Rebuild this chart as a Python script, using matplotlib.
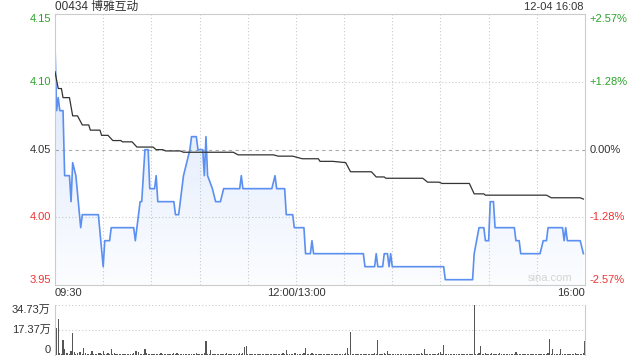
import matplotlib
matplotlib.use('Agg')
import matplotlib.pyplot as plt
import matplotlib.transforms as mtransforms
import numpy as np

plt.rcParams['font.family'] = ['Liberation Sans', 'Noto Sans CJK SC', 'DejaVu Sans']

# price line (minutes since 09:30, lunch break removed)
price_t = [0, 1, 2, 3, 5, 6, 9, 10, 11, 13, 16, 17, 27, 30, 31, 34, 35, 49, 50, 53,
           54, 55, 56, 58, 59, 62, 63, 64, 74, 75, 77, 78, 80, 82, 84, 85, 88, 89, 92, 93,
           94, 95, 98, 100, 103, 105, 115, 116, 117, 135, 137, 138, 143, 144, 148, 149,
           155, 156, 159, 160, 161, 192, 193, 199, 200, 201, 204, 205, 207, 208, 209, 210,
           242, 243, 260, 261, 264, 267, 268, 270, 271, 273, 274, 286, 287, 289, 290, 302,
           304, 306, 307, 316, 317, 318, 319, 327, 329]
price_v = [4.13, 4.08, 4.09, 4.08, 4.08, 4.03, 4.03, 4.01, 4.04, 4.03, 3.99, 4.00, 4.00, 3.96, 3.98, 3.98, 3.99, 3.99, 3.98, 4.01,
           4.01, 4.03, 4.05, 4.05, 4.02, 4.02, 4.03, 4.01, 4.01, 4.00, 4.00, 4.01, 4.03, 4.04, 4.05, 4.06, 4.06, 4.05, 4.05, 4.03,
           4.06, 4.03, 4.02, 4.01, 4.01, 4.02, 4.02, 4.03, 4.02, 4.02, 4.03, 4.02, 4.02, 4.00, 4.00, 3.99,
           3.99, 3.97, 3.97, 3.98, 3.97, 3.97, 3.96, 3.96, 3.97, 3.96, 3.96, 3.97, 3.97, 3.96, 3.97, 3.96,
           3.96, 3.95, 3.95, 3.97, 3.99, 3.99, 3.98, 3.98, 4.01, 4.01, 3.99, 3.99, 3.98, 3.98, 3.97, 3.97,
           3.98, 3.98, 3.99, 3.99, 3.98, 3.99, 3.98, 3.98, 3.97]

# average price line
avg_t = [0, 2, 4, 5, 9, 11, 14, 17, 21, 22, 28, 29, 33, 36, 41, 42, 48, 51, 61, 63,
         67, 69, 78, 80, 111, 114, 136, 139, 148, 154, 164, 165, 173, 181, 184, 197, 200,
         205, 206, 229, 232, 239, 241, 258, 261, 267, 268, 306, 309, 327, 329]
avg_v = [4.110, 4.097, 4.097, 4.090, 4.090, 4.076, 4.076, 4.069, 4.069, 4.065, 4.065, 4.061, 4.061, 4.057, 4.057, 4.056, 4.056, 4.052, 4.052, 4.050,
         4.050, 4.049, 4.049, 4.048, 4.048, 4.046, 4.046, 4.045, 4.045, 4.043, 4.043, 4.041, 4.041, 4.040, 4.033, 4.033, 4.029,
         4.029, 4.028, 4.028, 4.025, 4.025, 4.024, 4.024, 4.016, 4.016, 4.015, 4.015, 4.013, 4.013, 4.012]

# volume per minute, in 万
vol = [8.1, 18.5, 25, 1.5, 1.0, 10.4, 4.0, 1.5, 1.5, 1.0, 2.8, 15.5, 2.3, 1.0, 1.5, 2.3, 2.3, 1.0, 5.1, 1.5, 1.0, 0.8, 1.0, 2.8, 0.8, 1.0, 0.8, 1.2, 1.5, 0.8,
       2.8, 0.8, 1.0, 1.5, 0.8, 4.2, 1.0, 1.5, 0.8, 0.8, 1.0, 0.8, 0.6, 1.0, 0.8, 0.8, 1.0, 0.6, 0.8, 1.5, 2.8, 2.8, 1.8, 0.8, 1.0, 0.8, 4.2, 1.5, 0.8, 0.6,
       0.8, 1.0, 0.6, 0.8, 1.0, 0.8, 1.2, 0.6, 0.8, 1.0, 0.8, 0.6, 1.0, 0.8, 1.2, 0.8, 1.5, 0.8, 0.6, 1.0, 0.8, 0.8, 1.0, 0.6, 0.8, 1.0, 0.6, 0.8, 1.2, 1.0,
       0.8, 0.6, 1.0, 1.5, 9.7, 0.8, 1.0, 3.5, 0.8, 0.6, 1.0, 0.8, 0.6, 0.8, 1.0, 0.6, 0.8, 1.5, 0.8, 0.6, 1.0, 0.8, 0.6, 1.0, 0.8, 1.2, 1.0, 1.5, 5.8, 6.5,
       0.8, 0.6, 1.0, 0.8, 0.6, 1.0, 0.8, 0.6, 1.0, 0.8, 0.6, 0.8, 1.0, 0.6, 0.8, 1.0, 0.8, 0.6, 1.0, 0.8, 0.6, 1.0, 1.2, 0.8, 3.5, 0.6, 0.8, 1.0, 0.6, 1.5,
       1.5, 0.8, 0.6, 1.0, 0.8, 1.2, 4.6, 0.8, 0.6, 1.0, 1.5, 0.8, 0.6, 0.8, 1.0, 0.6, 0.8, 1.0, 0.6, 0.8, 1.0, 0.6, 0.8, 1.0, 0.6, 0.8, 1.0, 0.8, 0.6, 1.0,
       0.8, 1.2, 4.6, 0.8, 16.0, 1.0, 0.8, 0.6, 1.0, 0.8, 0.6, 1.0, 0.8, 0.6, 1.0, 0.8, 0.6, 1.0, 0.8, 1.5, 0.6, 10.4, 0.8, 1.0, 0.6, 1.5, 0.8, 3.0, 0.8, 1.0,
       0.6, 0.8, 1.0, 0.6, 0.8, 1.0, 0.6, 0.8, 1.0, 0.6, 0.8, 1.0, 0.6, 0.8, 1.0, 0.6, 0.8, 1.0, 1.5, 0.8, 4.0, 0.8, 1.0, 0.6, 0.8, 1.0, 0.6, 0.8, 1.0, 1.2,
       2.0, 0.8, 7.0, 0.8, 1.0, 0.6, 0.8, 1.0, 0.6, 0.8, 1.0, 0.6, 0.8, 1.0, 0.6, 0.8, 1.0, 0.6, 0.8, 1.0, 0.6, 34.73, 1.0, 0.8, 1.2, 6.2, 0.8, 1.0, 1.5, 0.6,
       0.8, 1.0, 1.2, 0.8, 0.6, 1.0, 0.8, 1.5, 0.6, 0.8, 1.0, 0.6, 0.8, 1.0, 0.6, 0.8, 1.0, 2.0, 0.8, 0.6, 1.0, 0.8, 0.6, 1.0, 0.8, 0.6, 1.0, 0.8, 0.6, 1.0,
       0.8, 0.6, 1.0, 0.8, 0.6, 1.0, 0.8, 1.2, 11.0, 0.8, 4.2, 1.0, 0.6, 0.8, 1.0, 4.5, 0.8, 1.0, 0.6, 0.8, 1.0, 0.6, 0.8, 1.0, 1.5, 0.8, 1.0, 0.6, 0.8, 1.2,
       9.7]

prev_close = 4.05
pct_steps = [2, 1, 0, -1, -2]
price_labels = ['4.15', '4.10', '4.05', '4.00', '3.95']
pct_labels = ['+2.57%', '+1.28%', '0.00%', '-1.28%', '-2.57%']
label_colors = ['#2aa52a', '#2aa52a', '#333333', '#ee3333', '#ee3333']
time_labels = ['09:30', '12:00/13:00', '16:00']
time_pos = [0, 150, 330]
vol_labels = ['34.73万', '17.37万', '0']
vol_ticks = [34.73, 17.37, 0]

step = prev_close * 0.01285
ylo, yhi = prev_close - 2 * step, prev_close + 2 * step

fig = plt.figure(figsize=(6.4, 3.6), dpi=100)
ax = fig.add_axes([55/640, 1-285/360, 530/640, 270.7/360])
axv = fig.add_axes([55/640, 1-355/360, 530/640, 50/360])

# grid
for k in [1, -1]:
    ax.axhline(prev_close + k * step, color='#cccccc', ls=(0, (1, 2)), lw=0.8, zorder=0)
ax.axhline(prev_close, color='#aaaaaa', ls=(0, (3, 3)), lw=0.8, zorder=0)
for t in range(30, 330, 30):
    ax.axvline(t, color='#cccccc', ls=(0, (1, 2)), lw=0.8, zorder=0)

# area under the price line with a fading gradient
poly = ax.fill_between(price_t, price_v, ylo, color='none', lw=0)
img = np.zeros((256, 1, 4))
img[..., 0] = 0.33
img[..., 1] = 0.55
img[..., 2] = 0.94
img[..., 3] = np.linspace(0.22, 0.02, 256).reshape(-1, 1)
im = ax.imshow(img, extent=[0, 330, ylo, max(price_v)], aspect='auto', origin='upper', zorder=1)
im.set_clip_path(poly.get_paths()[0], transform=ax.transData)

ax.plot(avg_t, avg_v, color='#333333', lw=0.9, zorder=3)
ax.plot(price_t, price_v, color='#5b8ff0', lw=1.2, zorder=2)

ax.set_xlim(0, 330)
ax.set_ylim(ylo, yhi)
ax.set_xticks([])
ax.set_yticks([])
for s in ax.spines.values():
    s.set_color('#cccccc')
    s.set_linewidth(0.8)

# axis labels
ytrans = mtransforms.blended_transform_factory(ax.transAxes, ax.transData)
for i, k in enumerate(pct_steps):
    v = prev_close + k * step
    va = 'top' if k == 2 else ('bottom' if k == -2 else 'center')
    ax.text(-0.007, v, price_labels[i], transform=ytrans, ha='right', va=va,
            fontsize=8, color=label_colors[i])
    ax.text(1.009, v, pct_labels[i], transform=ytrans, ha='left', va=va,
            fontsize=8, color=label_colors[i])

xtrans = mtransforms.blended_transform_factory(ax.transData, ax.transAxes)
for i, t in enumerate(time_pos):
    ha = 'left' if i == 0 else ('right' if i == len(time_pos) - 1 else 'center')
    ax.text(t, -0.012, time_labels[i], transform=xtrans, ha=ha, va='top',
            fontsize=8, color='#333333')

ax.text(0.977, 0.008, 'sina.com', transform=ax.transAxes, ha='right', va='bottom',
        fontsize=8, color='#d4d4d4')

fig.text(55/640, 1-7/360, '00434 博雅互动', ha='left', va='center', fontsize=8.5, color='#333333')
fig.text(584/640, 1-7/360, '12-04 16:08', ha='right', va='center', fontsize=8, color='#333333')

# volume panel
axv.bar(range(len(vol)), vol, width=0.7, color='#555555', zorder=2)
axv.axhline(vol_ticks[0], color='#cccccc', ls=(0, (1, 2)), lw=0.8, zorder=0)
axv.axhline(vol_ticks[1], color='#cccccc', ls=(0, (1, 2)), lw=0.8, zorder=0)
axv.set_xlim(0, 330)
axv.set_ylim(0, vol_ticks[0])
axv.set_xticks([])
axv.set_yticks([])
axv.spines['top'].set_visible(False)
axv.spines['bottom'].set_visible(False)
for s in ['left', 'right']:
    axv.spines[s].set_color('#cccccc')
    axv.spines[s].set_linewidth(0.8)
vtrans = mtransforms.blended_transform_factory(axv.transAxes, axv.transData)
for i, v in enumerate(vol_ticks):
    va = 'top' if i == 0 else ('bottom' if v == 0 else 'center')
    axv.text(-0.008, v, vol_labels[i], transform=vtrans, ha='right', va=va,
             fontsize=8, color='#333333')

fig.savefig('out.png', dpi=100)
